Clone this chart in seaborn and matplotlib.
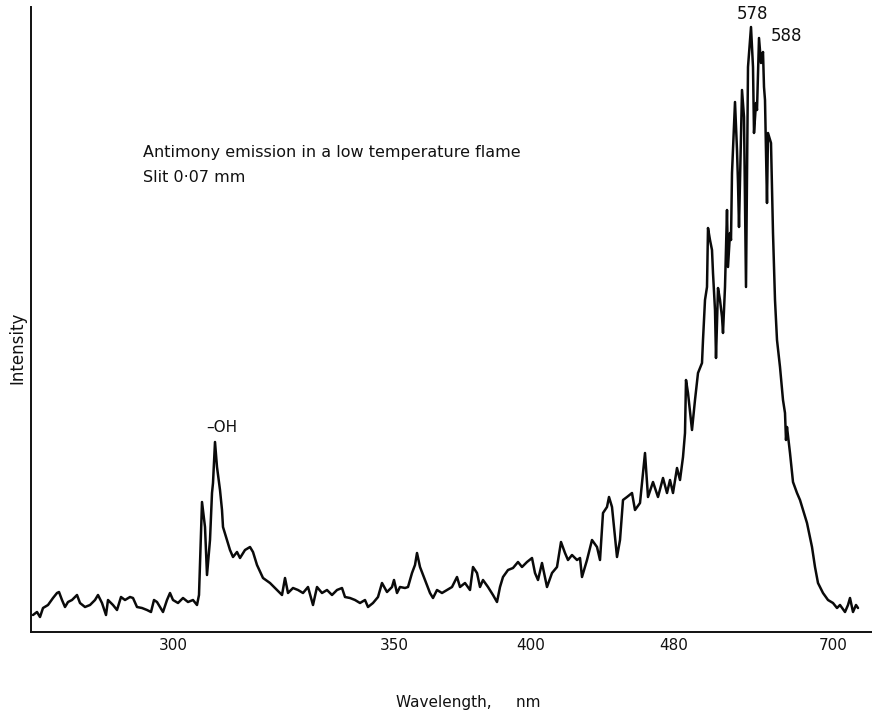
import matplotlib
matplotlib.use("Agg")
import matplotlib.pyplot as plt
import seaborn as sns
import numpy as np
import pandas as pd

# chart-recorder scan position (arbitrary units along the chart) and pen deflection
scan_pos = [33, 37, 40, 43, 48, 53, 57, 59, 62, 65, 68, 72, 77, 80, 85, 90, 95, 98, 102, 106,
            108, 113, 117, 121, 125, 130, 133, 137, 142, 147, 151, 154, 157, 160, 163, 167, 170, 173, 178, 183,
            188, 193, 197, 199, 202, 205, 207, 210, 212, 213, 215, 217, 220, 222, 223, 227, 230, 233, 237, 240,
            245, 250, 253, 257, 263, 270, 277, 282, 285, 288, 293, 298, 303, 308, 313, 317, 322, 327, 332, 337,
            342, 345, 350, 355, 360, 365, 368, 373, 378, 382, 387, 392, 394, 397, 400, 405, 408, 412, 415, 417,
            420, 425, 430, 433, 437, 442, 447, 452, 457, 460, 465, 470, 473, 477, 480, 483, 488, 493, 497, 500,
            503, 508, 513, 518, 522, 527, 532, 535, 538, 542, 547, 552, 557, 561, 565, 568, 572, 577, 580, 582,
            587, 592, 597, 600, 603, 607, 609, 612, 617, 620, 623, 627, 632, 635, 640, 645, 648, 653, 658, 663,
            667, 670, 673, 677, 680, 683, 685, 686, 688, 692, 695, 698, 702, 703, 705, 707, 708, 710, 712, 713,
            715, 716, 718, 720, 722, 723, 725, 727, 728, 730, 731, 732, 735, 737, 738, 739, 742, 744, 746, 748,
            751, 753, 754, 756, 757, 759, 761, 763, 764, 765, 767, 768, 771, 773, 775, 777, 780, 783, 785, 786,
            787, 790, 793, 797, 800, 807, 812, 815, 818, 823, 828, 833, 837, 840, 845, 848, 850, 853, 856, 858]
intensity = [17, 20, 15, 24, 27, 34, 39, 40, 32, 25, 30, 32, 37, 29, 25, 27, 32, 37, 29, 17,
             32, 27, 22, 35, 32, 35, 34, 25, 24, 22, 20, 32, 30, 25, 20, 32, 39, 32, 29, 34,
             30, 32, 27, 37, 130, 105, 57, 92, 139, 149, 190, 165, 142, 122, 105, 92, 82, 75, 80, 74,
             82, 85, 80, 67, 54, 49, 42, 37, 54, 39, 44, 42, 39, 45, 27, 45, 39, 42, 37, 42,
             44, 35, 34, 32, 29, 32, 25, 29, 35, 49, 40, 45, 52, 39, 45, 44, 45, 59, 67, 79,
             65, 52, 39, 34, 42, 39, 42, 45, 55, 45, 49, 42, 65, 59, 45, 52, 45, 37, 30, 45,
             55, 62, 64, 70, 65, 70, 74, 59, 52, 69, 45, 59, 65, 90, 79, 72, 77, 72, 74, 55,
             72, 92, 85, 72, 119, 125, 135, 125, 75, 92, 132, 135, 139, 122, 129, 179, 135, 150, 135, 154,
             139, 152, 139, 164, 152, 175, 199, 252, 239, 202, 232, 259, 269, 292, 332, 345, 404, 392, 382, 359,
             322, 274, 344, 332, 315, 299, 345, 422, 365, 399, 392, 459, 530, 482, 449, 405, 542, 515, 345, 565,
             605, 565, 499, 529, 522, 594, 569, 580, 545, 532, 429, 499, 489, 399, 332, 292, 265, 232, 219, 192,
             205, 179, 150, 139, 132, 109, 85, 65, 49, 39, 32, 29, 24, 27, 20, 27, 34, 20, 27, 24]

tick_pos = [173, 394, 531, 674, 833]
tick_labels = ["300", "350", "400", "480", "700"]

df = pd.DataFrame({"pos": scan_pos, "intensity": intensity})

sns.set_style("white")
plt.rcParams["font.family"] = ["DejaVu Sans"]

fig = plt.figure(figsize=(8.72, 7.18), dpi=100)
ax = fig.add_axes([31 / 872, 86 / 718, 841 / 872, 625 / 718])

sns.lineplot(data=df, x="pos", y="intensity", ax=ax, color="#0a0a0a",
             linewidth=1.8, estimator=None, sort=False)

ax.set_xlim(31, 872)
ax.set_ylim(0, 625)
ax.set_xticks(tick_pos)
ax.set_xticklabels(tick_labels, fontsize=11, color="#222222")
ax.set_yticks([])
ax.tick_params(axis="x", direction="in", length=10, width=1.3, pad=4, colors="#111111")
ax.set_xlabel("")
ax.set_ylabel("")
for s in ["top", "right"]:
    ax.spines[s].set_visible(False)
for s in ["left", "bottom"]:
    ax.spines[s].set_color("#111111")
    ax.spines[s].set_linewidth(1.4)

ax.text(143, 632 - 153, "Antimony emission in a low temperature flame", fontsize=11.5,
        ha="left", va="center", color="#111111")
ax.text(143, 632 - 177, "Slit 0·07 mm", fontsize=11.5, ha="left", va="center", color="#111111")
ax.text(222, 632 - 428, "–OH", fontsize=11, ha="center", va="center", color="#111111")
ax.text(752, 632 - 14, "578", fontsize=12, ha="center", va="center", color="#111111")
ax.text(787, 632 - 36, "588", fontsize=12, ha="center", va="center", color="#111111")

fig.text(17 / 872, 1 - 348 / 718, "Intensity", rotation=90, fontsize=12,
         ha="center", va="center", color="#111111")
fig.text(468 / 872, 1 - 703 / 718, "Wavelength,     nm", fontsize=11,
         ha="center", va="center", color="#111111")

fig.savefig("out.png", dpi=100)
